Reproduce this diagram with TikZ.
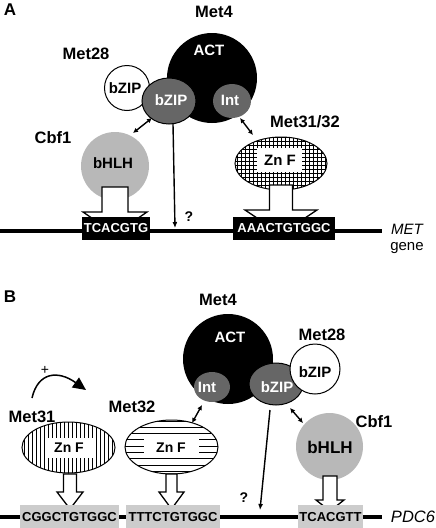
\documentclass[tikz,border=0pt]{standalone}
\usepackage{fontspec}
\setmainfont{Liberation Sans}
\usetikzlibrary{arrows.meta,shapes.geometric}
\definecolor{dkgray}{gray}{0.4}
\definecolor{bhgray}{gray}{0.72}
\definecolor{boxgray}{gray}{0.8}
\newcommand\blockarr[6]{%
  \filldraw[fill=white, line width=1.3pt, line join=miter]
    (#1-#5,#2) -- (#1-#5,#3) -- (#1-#6,#3) -- (#1,#4) -- (#1+#6,#3) -- (#1+#5,#3) -- (#1+#5,#2) -- cycle;}
\begin{document}
\begin{tikzpicture}[x=1pt,y=-1pt,
  lab/.style={font=\bfseries\fontsize{16.5}{18}\selectfont, inner sep=0},
  fs/.style={font=\bfseries\fontsize{#1}{#1}\selectfont, inner sep=0},
  dna/.style={font=\bfseries\fontsize{13}{13}\selectfont, inner sep=0, minimum height=#1, anchor=center},
  blackbox/.style={dna=23pt, fill=black, text=white},
  graybox/.style={dna=25pt, fill=boxgray, text=black},
  dbl/.style={{Latex[length=5pt,width=5pt]}-{Latex[length=5pt,width=5pt]}, line width=1.4pt},
  down/.style={-{Latex[length=6pt,width=5pt]}, line width=1.4pt},
  dnaline/.style={line width=4.5pt},
  circ/.style={circle, inner sep=0, minimum size=#1},
  ell/.style 2 args={ellipse, inner sep=0, minimum width=#1, minimum height=#2},
  pat/.style={line width=0.9pt},
]
\useasboundingbox (0,0) rectangle (436,528);

%%%%%%%%%%%%%%%% Panel A
\node[lab, font=\bfseries\fontsize{17}{17}\selectfont] (pA) at (10,10) {A};
\node[lab] (met4A) at (214,12) {Met4};
\node[circ=90pt, fill=black] (actA) at (212,78) {};
\node[fs=15, text=white] (acttA) at (209,50) {ACT};
\node[circ=45pt, fill=white, draw, line width=1pt] (m28A) at (127,88) {};
\node[fs=15] (m28tA) at (125,88) {bZIP};
\node[lab] (m28lA) at (86,54) {Met28};
\node[ell={54pt}{46pt}, fill=dkgray, draw, line width=1pt] (bzipA) at (169,101) {};
\node[fs=15, text=white] (bziptA) at (171,100) {bZIP};
\node[ell={38pt}{34pt}, fill=dkgray] (intA) at (232,101) {};
\node[fs=15, text=white] (inttA) at (230,100) {Int};
\node[lab] (cbfA) at (53,138) {Cbf1};
\node[circ=68pt, fill=bhgray] (bhA) at (115,166) {};
\node[fs=15] (bhtA) at (113,163) {bHLH};
\node[lab] (m31A) at (305,122) {Met31/32};
% Zn F patterned ellipse
\begin{scope}
  \clip (281,163.5) ellipse [x radius=46pt, y radius=26.5pt];
  \foreach \i in {0,...,25} \draw[pat] (233+4*\i,130) -- (233+4*\i,200);
  \foreach \i in {0,...,16} \draw[pat] (230,133+4*\i) -- (335,133+4*\i);
\end{scope}
\fill[white] (257,148) rectangle (302,172);
\node[ell={92pt}{53pt}, draw, line width=1pt] (znA) at (281,163.5) {};
\node[fs=15] (zntA) at (280,160) {Zn F};
% connectors
\draw[dbl] (133,133) -- (152,118);
\coordinate (qA) at (175,228);
\draw[down] (173,124) -- (qA);
\node[fs=14] (qmA) at (189,217) {?};
\draw[dbl] (240,118) -- (253,135);
% DNA
\draw[dnaline] (0,231) -- (382,231);
\blockarr{115}{187}{212}{234}{13}{32}
\blockarr{281}{185}{210}{234}{11.5}{36}
\node[blackbox, minimum width=68pt] (s1A) at (116,228.5) {TCACGTG};
\node[blackbox, minimum width=102pt] (s2A) at (284,228.5) {AAACTGTGGC};
\node[font=\itshape\fontsize{15}{15}\selectfont, inner sep=0] (metA) at (407,229) {MET};
\node[font=\fontsize{15}{15}\selectfont, inner sep=0] (geneA) at (407,248) {gene};

%%%%%%%%%%%%%%%% Panel B
\node[lab, font=\bfseries\fontsize{17}{17}\selectfont] (pB) at (10,297) {B};
\node[lab] (met4B) at (218,300) {Met4};
\node[circ=90pt, fill=black] (actB) at (228,359) {};
\node[fs=15, text=white] (acttB) at (230,337) {ACT};
\node[ell={54pt}{42pt}, fill=dkgray, draw, line width=1pt] (bzipB) at (276,384) {};
\node[fs=15, text=white] (bziptB) at (277,387) {bZIP};
\node[circ=50pt, fill=white, draw, line width=1pt] (m28B) at (315,369) {};
\node[fs=15] (m28tB) at (315,372) {bZIP};
\node[ell={36pt}{30pt}, fill=dkgray] (intB) at (212,387) {};
\node[fs=15, text=white] (inttB) at (207,387) {Int};
\node[lab] (m28lB) at (322,335) {Met28};
\node[lab] (cbfB) at (374,422) {Cbf1};
\node[circ=67pt, fill=bhgray] (bhB) at (329.5,446.5) {};
\node[fs=17] (bhtB) at (330,447) {bHLH};
\node[lab] (m32lB) at (132,407) {Met32};
\node[lab] (m31lB) at (32,417) {Met31};
% Met31 vertical lines
\begin{scope}
  \clip (68.5,447.5) ellipse [x radius=46.5pt, y radius=25.5pt];
  \foreach \i in {0,...,25} \draw[pat] (20+4*\i,415) -- (20+4*\i,480);
\end{scope}
\fill[white] (45,438) rectangle (95,458);
\node[ell={93pt}{51pt}, draw, line width=1pt] (m31B) at (68.5,447.5) {};
\node[fs=14] (znt31) at (69,448) {Zn F};
% Met32 horizontal lines
\begin{scope}
  \clip (171.5,447) ellipse [x radius=46.5pt, y radius=27pt];
  \foreach \i in {0,...,9} \draw[pat] (120,421+6.3*\i) -- (225,421+6.3*\i);
\end{scope}
\fill[white] (144,439) rectangle (199,457);
\node[ell={93pt}{54pt}, draw, line width=1pt] (m32B) at (171.5,447) {};
\node[fs=14] (znt32) at (171,448) {Zn F};
% connectors
\draw[dbl] (290,408) -- (303,423);
\draw[dbl] (202,405) -- (192,423);
\coordinate (qB) at (260,510);
\draw[down] (270,410) -- (qB);
\node[fs=14] (qmB) at (244,498) {?};
\coordinate (cs) at (32,398);
\coordinate (ce) at (86,390);
\draw[line width=1.5pt, -{Triangle[length=13pt,width=12pt]}] (cs) .. controls (38,372) and (58,370) .. (ce);
\node[font=\fontsize{14}{14}\selectfont, inner sep=0] (plus) at (45,370) {+};
% DNA
\draw[dnaline] (0,517) -- (382,517);
\blockarr{70}{474}{492}{509}{6.5}{13}
\blockarr{171.5}{474}{492}{509}{5.5}{12.5}
\blockarr{330}{476}{500}{511}{7}{14}
\node[graybox, minimum width=99pt] (s1B) at (69.5,517.5) {CGGCTGTGGC};
\node[graybox, minimum width=94pt] (s2B) at (173,517.5) {TTTCTGTGGC};
\node[graybox, minimum width=65pt] (s3B) at (330.5,517.5) {TCACGTT};
\node[font=\itshape\fontsize{16.5}{16.5}\selectfont, inner sep=0] (pdc) at (413,517) {PDC6};
\end{tikzpicture}
\end{document}
